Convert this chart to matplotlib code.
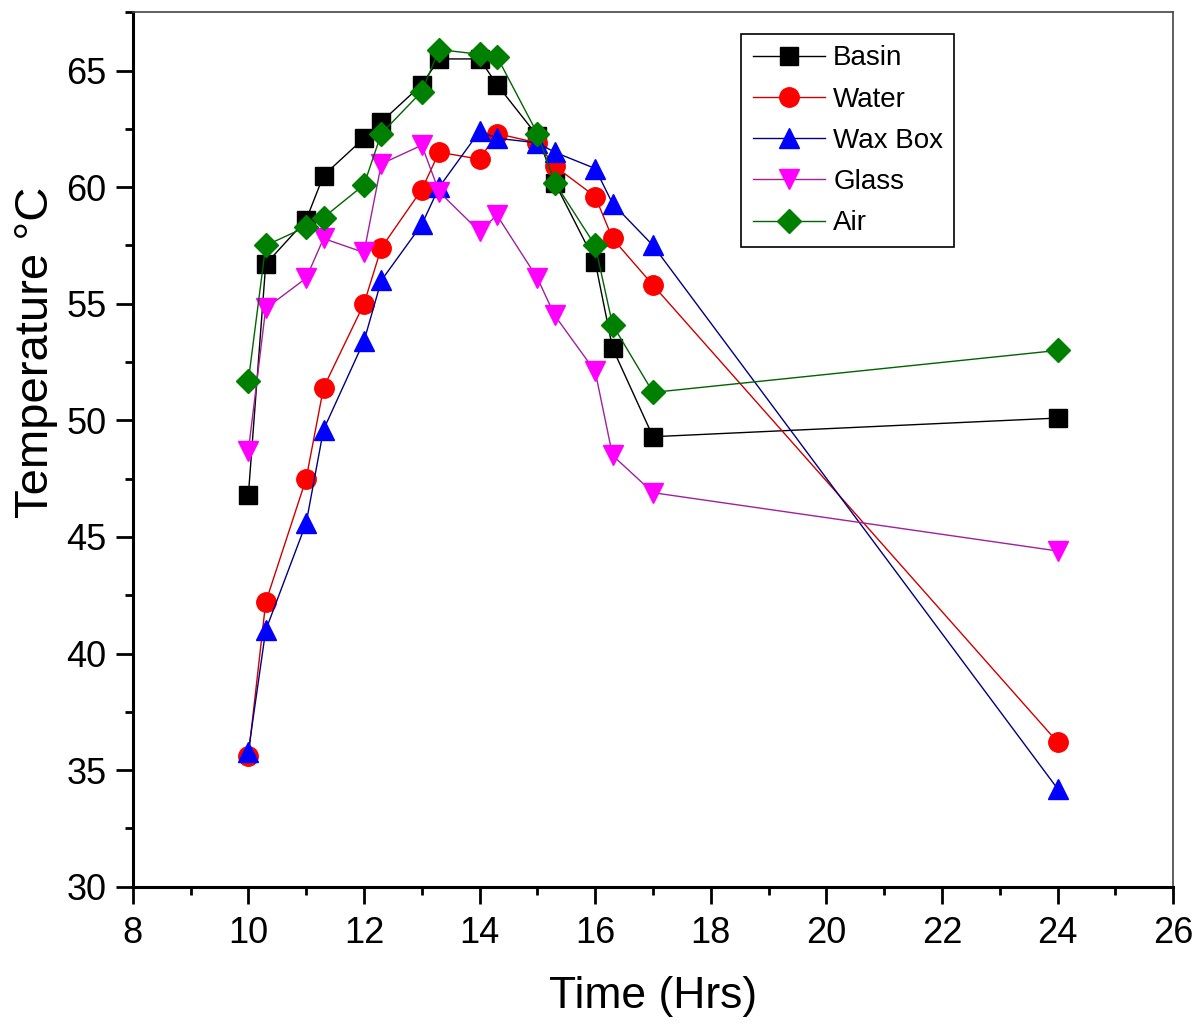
import matplotlib
matplotlib.use("Agg")
import matplotlib.pyplot as plt
from matplotlib.ticker import MultipleLocator

plt.rcParams['font.family'] = ['Liberation Sans', 'DejaVu Sans']

# time of day (hrs), 10.3 = 10:30 etc.
time_hrs = [10, 10.3, 11, 11.3, 12, 12.3, 13, 13.3, 14, 14.3, 15, 15.3, 16, 16.3, 17, 24]

basin = [46.8, 56.7, 58.6, 60.5, 62.1, 62.8, 64.4, 65.5, 65.5, 64.4, 62.2, 60.2, 56.8, 53.1, 49.3, 50.1]
water = [35.6, 42.2, 47.5, 51.4, 55.0, 57.4, 59.9, 61.5, 61.2, 62.3, 61.9, 60.9, 59.6, 57.8, 55.8, 36.2]
wax_box = [35.8, 41.0, 45.6, 49.6, 53.4, 56.0, 58.4, 60.0, 62.4, 62.1, 61.9, 61.5, 60.8, 59.3, 57.5, 34.2]
glass = [48.7, 54.8, 56.1, 57.8, 57.2, 61.0, 61.8, 59.8, 58.1, 58.8, 56.1, 54.5, 52.1, 48.5, 46.9, 44.4]
air = [51.7, 57.5, 58.3, 58.7, 60.1, 62.3, 64.1, 65.9, 65.7, 65.6, 62.3, 60.2, 57.5, 54.1, 51.2, 53.0]

series_names = ["Basin", "Water", "Wax Box", "Glass", "Air"]

fig = plt.figure(figsize=(11.96, 10.24), dpi=100)
ax = fig.add_axes([0.111, 0.134, 0.870, 0.854])

# one line per series, Origin style: thin line + big filled marker
ax.plot(time_hrs, basin, color='black', lw=1, marker='s', ms=13, mfc='black', mec='black', label=series_names[0])
ax.plot(time_hrs, water, color='#cc0000', lw=1, marker='o', ms=14, mfc='#ff0000', mec='#ff0000', label=series_names[1])
ax.plot(time_hrs, wax_box, color='#000080', lw=1, marker='^', ms=15, mfc='#0000ff', mec='#0000ff', label=series_names[2])
ax.plot(time_hrs, glass, color='#a020a0', lw=1, marker='v', ms=15, mfc='#ff00ff', mec='#ff00ff', label=series_names[3])
ax.plot(time_hrs, air, color='#006400', lw=1, marker='D', ms=12, mfc='#008000', mec='#008000', label=series_names[4])

ax.set_xlim(8, 26)
ax.set_ylim(30, 67.5)
ax.xaxis.set_major_locator(MultipleLocator(2))
ax.xaxis.set_minor_locator(MultipleLocator(1))
ax.yaxis.set_major_locator(MultipleLocator(5))
ax.yaxis.set_minor_locator(MultipleLocator(2.5))

# thick black left/bottom, thin grey top/right
for side in ['left', 'bottom']:
    ax.spines[side].set_linewidth(2.2)
    ax.spines[side].set_color('black')
for side in ['top', 'right']:
    ax.spines[side].set_linewidth(1.2)
    ax.spines[side].set_color('#444444')

ax.tick_params(which='major', direction='out', length=12, width=2, labelsize=26, pad=7)
ax.tick_params(which='minor', direction='out', length=6, width=2)
ax.tick_params(axis='x', which='major', pad=9)

ax.set_xlabel("Time (Hrs)", fontsize=32)
ax.set_ylabel("Temperature °C", fontsize=34)
ax.xaxis.set_label_coords(0.5, -0.102)
ax.yaxis.set_label_coords(-0.072, 0.611)

leg = ax.legend(loc='upper left', bbox_to_anchor=(0.585, 0.975), fontsize=20,
                frameon=True, fancybox=False, edgecolor='black', framealpha=1,
                handlelength=2.6, labelspacing=0.55, borderpad=0.4, handletextpad=0.3,
                borderaxespad=0)
leg.get_frame().set_linewidth(1.2)

plt.savefig("out.png", dpi=100)
